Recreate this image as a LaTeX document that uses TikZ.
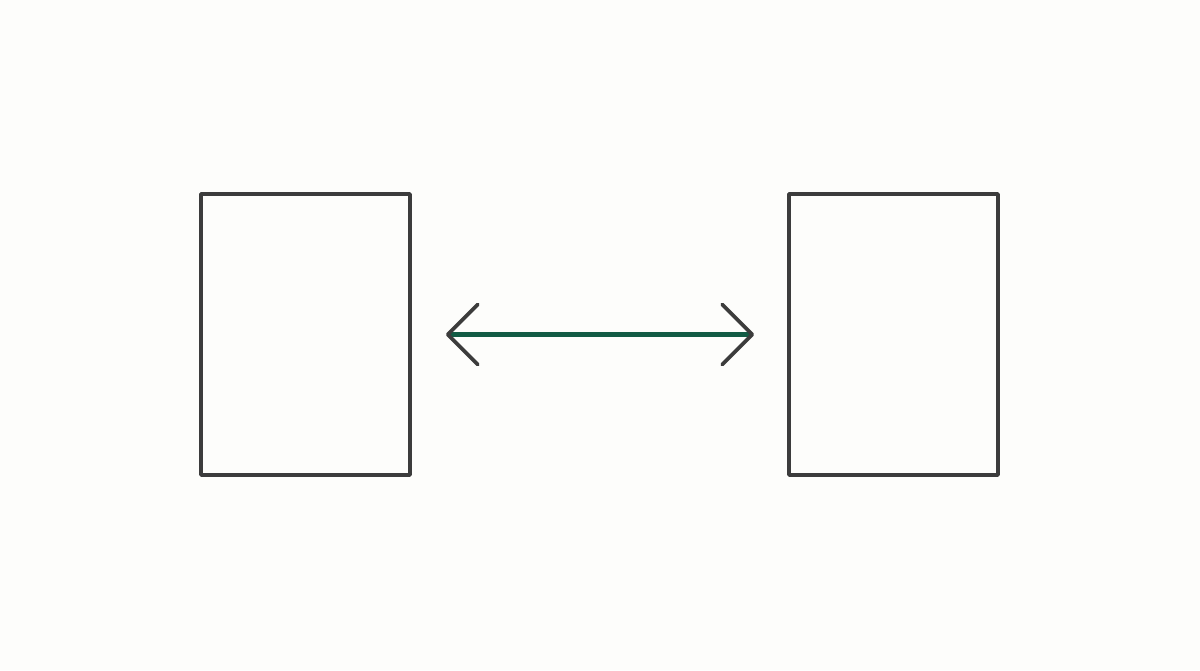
\documentclass[tikz,border=0pt]{standalone}
\usetikzlibrary{arrows.meta}
\definecolor{boxgray}{HTML}{3C3C3C}
\definecolor{linkgreen}{HTML}{125B44}
\definecolor{bg}{HTML}{FDFDFB}
\tikzset{
  panel/.style={draw=boxgray, line width=3.8pt, minimum width=209pt, minimum height=281pt, inner sep=0pt, line join=round},
  chev/.tip={Straight Barb[length=30pt, width=60pt, line width=3.8pt, color=boxgray, line cap=round, line join=round]},
  link/.style={draw=linkgreen, line width=4.6pt, {chev}-{chev}, shorten <=34pt, shorten >=33pt}
}
\begin{document}
\begin{tikzpicture}[x=1pt,y=-1pt]
\fill[bg] (0,0) rectangle (1200,670);
\useasboundingbox (0,0) rectangle (1200,670);
\node[panel] (left) at (305.5,334.5) {};
\node[panel] (right) at (893.5,334.5) {};
\draw[link] (left.east) -- (right.west);
\end{tikzpicture}
\end{document}
